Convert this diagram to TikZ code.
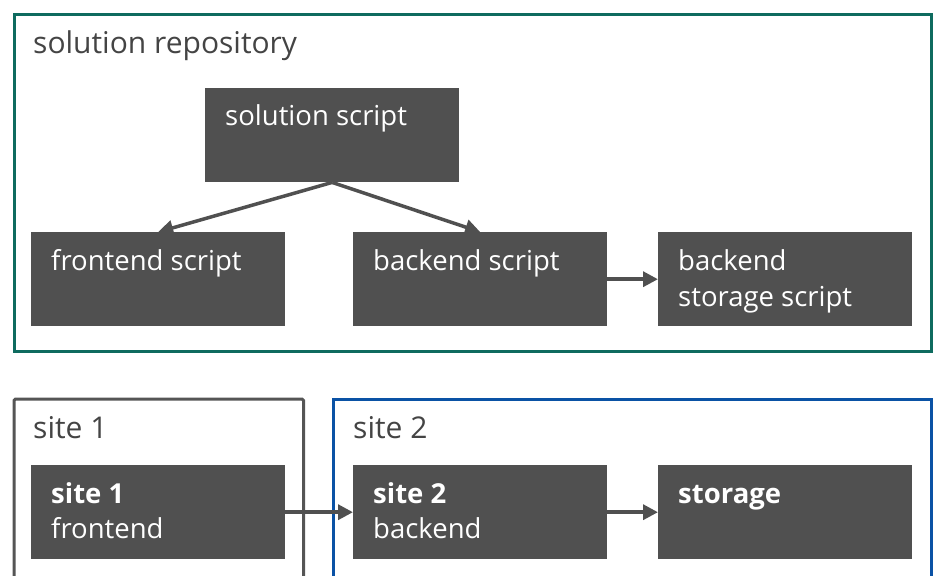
\documentclass[tikz,border=0pt]{standalone}
\usepackage{fontspec}
\setmainfont{Open Sans}
\usetikzlibrary{arrows.meta}
\definecolor{boxgray}{HTML}{505050}
\definecolor{teal}{HTML}{0E6B5F}
\definecolor{siteblue}{HTML}{0A52A5}
\definecolor{sitegray}{HTML}{555555}
\definecolor{titlegray}{HTML}{444444}
\newcommand{\fsz}{\fontsize{27.5pt}{33pt}\selectfont}
\newcommand{\tsz}{\fontsize{30pt}{36pt}\selectfont}
\tikzset{
  blk/.style={fill=boxgray, draw=none, minimum width=254pt, minimum height=94pt, anchor=north west, inner sep=0pt},
  blktext/.style={anchor=base west, text=white, font=\fsz, inner sep=0pt},
  ttl/.style={anchor=base west, text=titlegray, font=\tsz, inner sep=0pt},
  frame/.style={line width=3pt, fill=none},
  conn/.style={draw=boxgray, line width=3.5pt, -{Triangle[length=15pt,width=15pt]}},
}
\begin{document}
\begin{tikzpicture}[x=1pt,y=-1pt]
\useasboundingbox (0,0) rectangle (938,576);
\clip (0,0) rectangle (938,576);
% frames
\draw[frame, draw=teal] (14,14) rectangle (931.5,351);
\draw[frame, draw=sitegray, rounded corners=1.5pt] (14,399) rectangle (303.5,600);
\draw[frame, draw=siteblue] (333.5,399) rectangle (931.5,600);
\node[ttl] (t1) at (33,53) {solution repository};
\node[ttl] (t2) at (33,438) {site 1};
\node[ttl] (t3) at (353,438) {site 2};
% top boxes
\node[blk] (sol) at (205,88) {};
\node[blk] (fe) at (31,232) {};
\node[blk] (be) at (353,232) {};
\node[blk] (bs) at (658,232) {};
\node[blktext] at ([xshift=20pt,yshift=-37pt]sol.north west) {solution script};
\node[blktext] at ([xshift=20pt,yshift=-38pt]fe.north west) {frontend script};
\node[blktext] at ([xshift=20pt,yshift=-38pt]be.north west) {backend script};
\node[blktext] at ([xshift=20pt,yshift=-38pt]bs.north west) {backend};
\node[blktext] at ([xshift=20pt,yshift=-74pt]bs.north west) {storage script};
% bottom boxes
\node[blk] (s1) at (31,465) {};
\node[blk] (s2) at (353,465) {};
\node[blk] (st) at (658,465) {};
\node[blktext, font=\fsz\bfseries] at ([xshift=20pt,yshift=-38pt]s1.north west) {site 1};
\node[blktext] at ([xshift=20pt,yshift=-73pt]s1.north west) {frontend};
\node[blktext, font=\fsz\bfseries] at ([xshift=20pt,yshift=-38pt]s2.north west) {site 2};
\node[blktext] at ([xshift=20pt,yshift=-73pt]s2.north west) {backend};
\node[blktext, font=\fsz\bfseries] at ([xshift=20pt,yshift=-38pt]st.north west) {storage};
% connectors
\draw[conn] (sol.south) -- (fe.north);
\draw[conn] (sol.south) -- (be.north);
\draw[conn] (be.east) -- (bs.west);
\draw[conn] (s1.east) -- (s2.west);
\draw[conn] (s2.east) -- (st.west);
\end{tikzpicture}
\end{document}
